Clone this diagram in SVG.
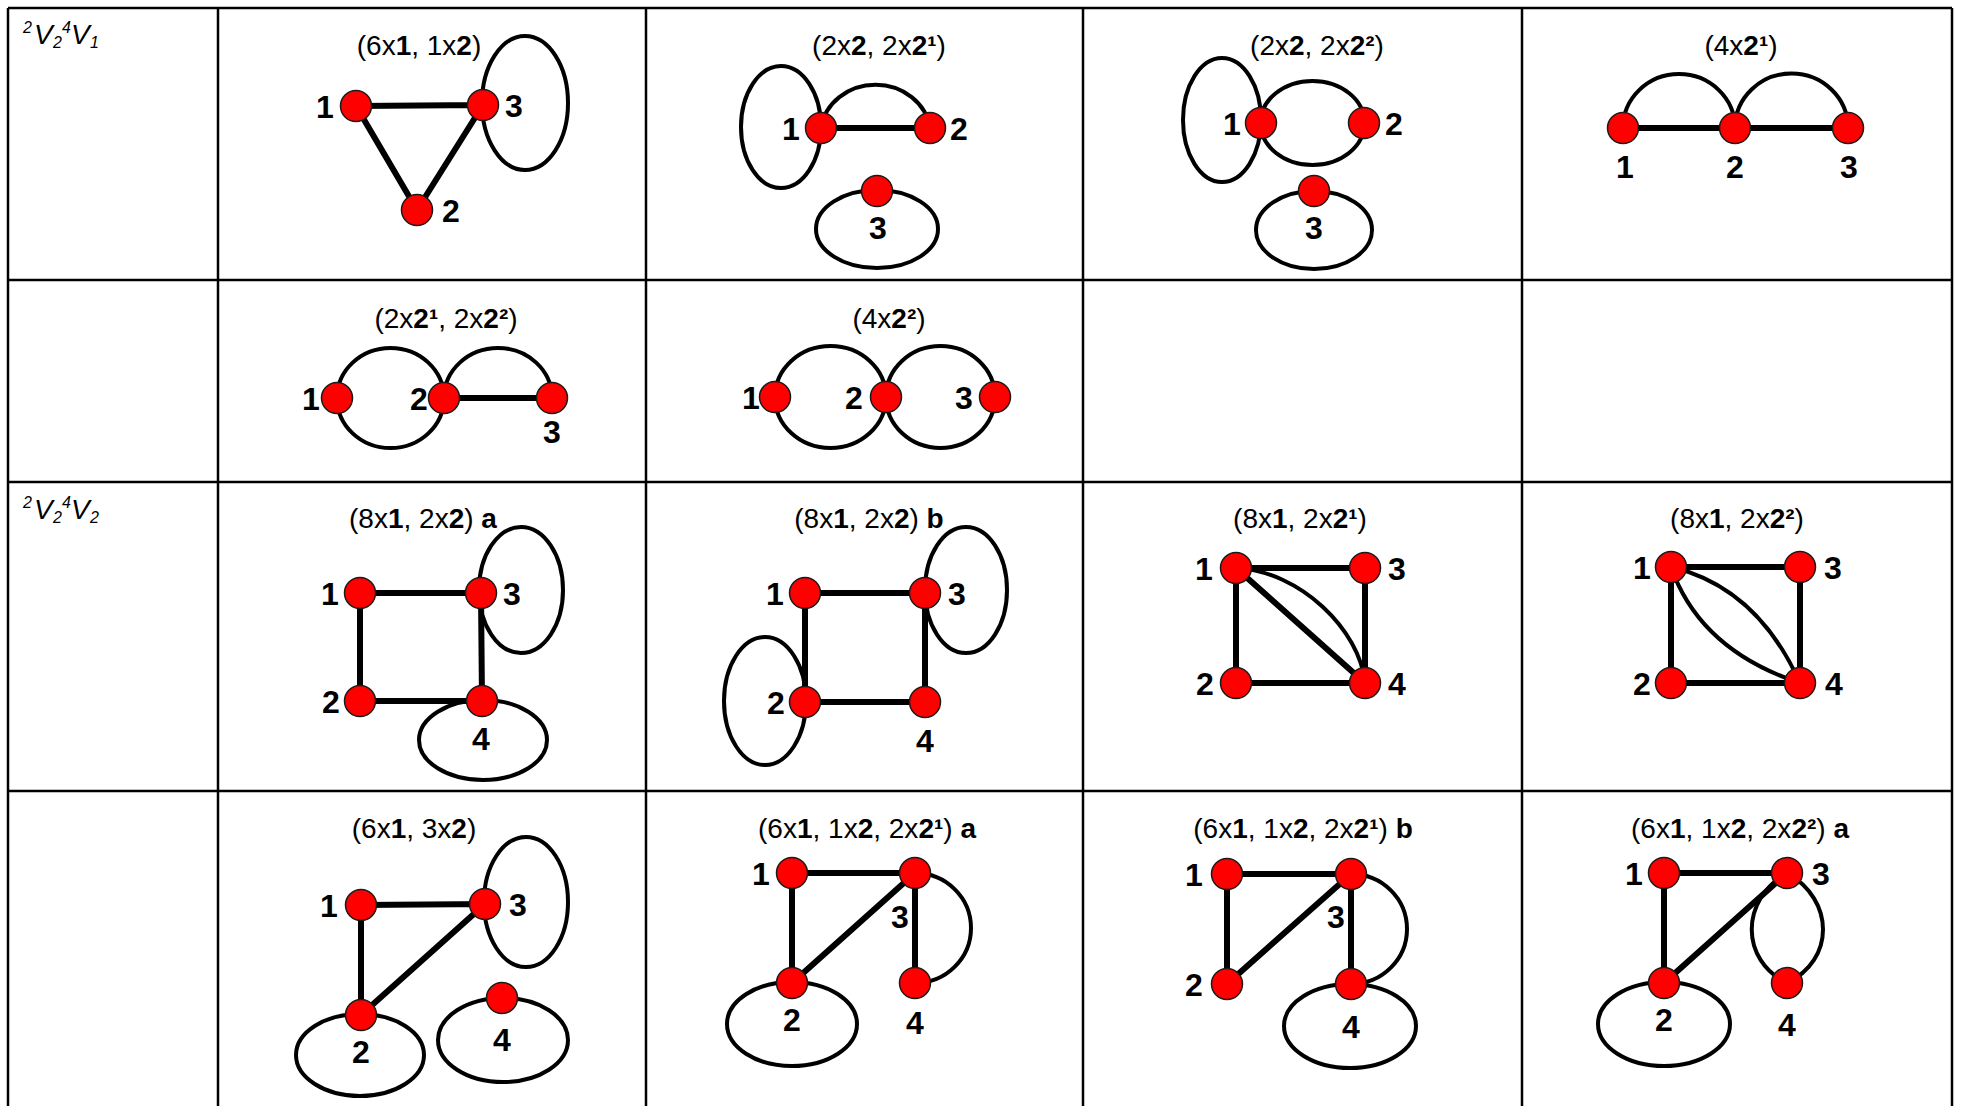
<svg xmlns="http://www.w3.org/2000/svg" width="1961" height="1106" viewBox="0 0 1961 1106">
<style>
.grid{stroke:#000;stroke-width:2.5;fill:none}
.e{stroke:#000;stroke-width:6;stroke-linecap:round;fill:none}
.l{stroke:#000;stroke-width:4;fill:none}
.n{fill:#ff0000;stroke:#1a1a1a;stroke-width:1.5}
.t{font-family:"Liberation Sans",Arial,sans-serif;font-size:28px;fill:#000;text-anchor:middle}
.b{font-weight:bold}
.d{font-family:"Liberation Sans",Arial,sans-serif;font-size:32px;font-weight:bold;fill:#000;text-anchor:middle}
.m{font-family:"Liberation Sans",Arial,sans-serif;font-style:italic;fill:#000;font-size:28px}
.s{font-size:16px}
</style>
<rect width="1961" height="1106" fill="#fff"/>
<g id="table" class="grid">
<path d="M8,8 H1952 M8,280 H1952 M8,482 H1952 M8,791 H1952"/>
<path d="M8,8 V1106 M218,8 V1106 M646,8 V1106 M1083,8 V1106 M1522,8 V1106 M1952,8 V1106"/>
</g>
<g id="rowlabels" class="m">
<text><tspan class="s" x="23" y="33">2</tspan><tspan x="34" y="44">V</tspan><tspan class="s" x="53" y="48">2</tspan><tspan class="s" x="62" y="33">4</tspan><tspan x="71" y="44">V</tspan><tspan class="s" x="90" y="48">1</tspan></text>
<text><tspan class="s" x="23" y="508">2</tspan><tspan x="34" y="519">V</tspan><tspan class="s" x="53" y="523">2</tspan><tspan class="s" x="62" y="508">4</tspan><tspan x="71" y="519">V</tspan><tspan class="s" x="90" y="523">2</tspan></text>
</g>
<g id="connectors">
<path class="e" d="M356,106 L483,105 M356,106 L417,210 M483,105 L417,210"/>
<ellipse class="l" cx="525" cy="103" rx="43" ry="67"/>
<path class="e" d="M821,128 L930,128"/>
<path class="l" d="M821,128 A55 50 0 0 1 930,128"/>
<ellipse class="l" cx="781" cy="127" rx="40" ry="61"/>
<ellipse class="l" cx="877" cy="229" rx="61" ry="39"/>
<ellipse class="l" cx="1312.5" cy="123" rx="52" ry="42"/>
<ellipse class="l" cx="1222" cy="120" rx="39" ry="62"/>
<ellipse class="l" cx="1314" cy="230" rx="58" ry="39"/>
<path class="e" d="M1623,128 L1848,128"/>
<path class="l" d="M1623,128 A56 54 0 0 1 1735,128 A56 54 0 0 1 1848,128"/>
<path class="e" d="M444,398 L552,398"/>
<ellipse class="l" cx="390.5" cy="398" rx="53.5" ry="50"/>
<path class="l" d="M444,398 A54 50 0 0 1 552,398"/>
<ellipse class="l" cx="830.5" cy="397" rx="55.5" ry="51"/>
<ellipse class="l" cx="940.5" cy="397" rx="54.5" ry="51"/>
<path class="e" d="M360,593 L481,593 L482,701 L360,701 Z"/>
<ellipse class="l" cx="521" cy="590" rx="42" ry="63"/>
<ellipse class="l" cx="483" cy="740" rx="64" ry="40"/>
<path class="e" d="M805,593 L925,593 L925,702 L805,702 Z"/>
<ellipse class="l" cx="966" cy="590" rx="41" ry="63"/>
<ellipse class="l" cx="765" cy="701" rx="41" ry="64"/>
<path class="e" d="M1236,568 L1365,568 L1365,683 L1236,683 Z M1236,568 L1365,683"/>
<path class="l" d="M1236,568 C1300,571 1360,630 1365,683"/>
<path class="e" d="M1671,567 L1800,567 L1800,683 L1671,683 Z"/>
<path class="l" d="M1671,567 Q1700,650 1800,683 M1671,567 Q1757,587 1800,683"/>
<path class="e" d="M361,905 L485,904 L361,1015 Z"/>
<ellipse class="l" cx="526" cy="902" rx="42" ry="65"/>
<ellipse class="l" cx="360" cy="1055" rx="64" ry="41"/>
<ellipse class="l" cx="503" cy="1040" rx="65" ry="42"/>
<path class="e" d="M792,873 L915,873 L792,983 Z M915,873 L915,983"/>
<path class="l" d="M915,873 A56 55 0 0 1 915,983"/>
<ellipse class="l" cx="792" cy="1024" rx="65" ry="42"/>
<path class="e" d="M1227,874 L1351,874 L1227,984 Z M1351,874 L1351,984"/>
<path class="l" d="M1351,874 A56 55 0 0 1 1351,984"/>
<ellipse class="l" cx="1350" cy="1026" rx="66" ry="42"/>
<path class="e" d="M1664,873 L1787,873 L1664,983 Z"/>
<path class="l" d="M1787,873 C1835,900 1835,960 1787,983 M1787,873 C1740,900 1740,960 1787,983"/>
<ellipse class="l" cx="1664" cy="1024" rx="66" ry="42"/>
</g>
<g id="c_r1c1">
<text class="t" x="419" y="55">(6x<tspan class="b">1</tspan>, 1x<tspan class="b">2</tspan>)</text>
<circle class="n" cx="356" cy="106" r="15.5"/><circle class="n" cx="483" cy="105" r="15.5"/><circle class="n" cx="417" cy="210" r="15.5"/>
<text class="d" x="325" y="118">1</text><text class="d" x="514" y="117">3</text><text class="d" x="451" y="222">2</text>
</g>
<g id="c_r1c2">
<text class="t" x="879" y="55">(2x<tspan class="b">2</tspan>, 2x<tspan class="b">2¹</tspan>)</text>
<circle class="n" cx="821" cy="128" r="15.5"/><circle class="n" cx="930" cy="128" r="15.5"/><circle class="n" cx="877" cy="191" r="15.5"/>
<text class="d" x="791" y="140">1</text><text class="d" x="959" y="140">2</text><text class="d" x="878" y="239">3</text>
</g>
<g id="c_r1c3">
<text class="t" x="1317" y="55">(2x<tspan class="b">2</tspan>, 2x<tspan class="b">2²</tspan>)</text>
<circle class="n" cx="1261" cy="123" r="15.5"/><circle class="n" cx="1364" cy="123" r="15.5"/><circle class="n" cx="1314" cy="191" r="15.5"/>
<text class="d" x="1232" y="135">1</text><text class="d" x="1394" y="135">2</text><text class="d" x="1314" y="239">3</text>
</g>
<g id="c_r1c4">
<text class="t" x="1741" y="55">(4x<tspan class="b">2¹</tspan>)</text>
<circle class="n" cx="1623" cy="128" r="15.5"/><circle class="n" cx="1735" cy="128" r="15.5"/><circle class="n" cx="1848" cy="128" r="15.5"/>
<text class="d" x="1625" y="178">1</text><text class="d" x="1735" y="178">2</text><text class="d" x="1849" y="178">3</text>
</g>
<g id="c_r2c1">
<text class="t" x="446" y="328">(2x<tspan class="b">2¹</tspan>, 2x<tspan class="b">2²</tspan>)</text>
<circle class="n" cx="337" cy="398" r="15.5"/><circle class="n" cx="444" cy="398" r="15.5"/><circle class="n" cx="552" cy="398" r="15.5"/>
<text class="d" x="311" y="410">1</text><text class="d" x="419" y="410">2</text><text class="d" x="552" y="443">3</text>
</g>
<g id="c_r2c2">
<text class="t" x="889" y="328">(4x<tspan class="b">2²</tspan>)</text>
<circle class="n" cx="775" cy="397" r="15.5"/><circle class="n" cx="886" cy="397" r="15.5"/><circle class="n" cx="995" cy="397" r="15.5"/>
<text class="d" x="751" y="409">1</text><text class="d" x="854" y="409">2</text><text class="d" x="964" y="409">3</text>
</g>
<g id="c_r3c1">
<text class="t" x="423" y="528">(8x<tspan class="b">1</tspan>, 2x<tspan class="b">2</tspan>) <tspan class="b">a</tspan></text>
<circle class="n" cx="360" cy="593" r="15.5"/><circle class="n" cx="481" cy="593" r="15.5"/><circle class="n" cx="360" cy="701" r="15.5"/><circle class="n" cx="482" cy="701" r="15.5"/>
<text class="d" x="330" y="605">1</text><text class="d" x="512" y="605">3</text><text class="d" x="331" y="713">2</text><text class="d" x="481" y="750">4</text>
</g>
<g id="c_r3c2">
<text class="t" x="869" y="528">(8x<tspan class="b">1</tspan>, 2x<tspan class="b">2</tspan>) <tspan class="b">b</tspan></text>
<circle class="n" cx="805" cy="593" r="15.5"/><circle class="n" cx="925" cy="593" r="15.5"/><circle class="n" cx="805" cy="702" r="15.5"/><circle class="n" cx="925" cy="702" r="15.5"/>
<text class="d" x="775" y="605">1</text><text class="d" x="957" y="605">3</text><text class="d" x="776" y="714">2</text><text class="d" x="925" y="752">4</text>
</g>
<g id="c_r3c3">
<text class="t" x="1300" y="528">(8x<tspan class="b">1</tspan>, 2x<tspan class="b">2¹</tspan>)</text>
<circle class="n" cx="1236" cy="568" r="15.5"/><circle class="n" cx="1365" cy="568" r="15.5"/><circle class="n" cx="1236" cy="683" r="15.5"/><circle class="n" cx="1365" cy="683" r="15.5"/>
<text class="d" x="1204" y="580">1</text><text class="d" x="1397" y="580">3</text><text class="d" x="1205" y="695">2</text><text class="d" x="1397" y="695">4</text>
</g>
<g id="c_r3c4">
<text class="t" x="1737" y="528">(8x<tspan class="b">1</tspan>, 2x<tspan class="b">2²</tspan>)</text>
<circle class="n" cx="1671" cy="567" r="15.5"/><circle class="n" cx="1800" cy="567" r="15.5"/><circle class="n" cx="1671" cy="683" r="15.5"/><circle class="n" cx="1800" cy="683" r="15.5"/>
<text class="d" x="1642" y="579">1</text><text class="d" x="1833" y="579">3</text><text class="d" x="1642" y="695">2</text><text class="d" x="1834" y="695">4</text>
</g>
<g id="c_r4c1">
<text class="t" x="414" y="838">(6x<tspan class="b">1</tspan>, 3x<tspan class="b">2</tspan>)</text>
<circle class="n" cx="361" cy="905" r="15.5"/><circle class="n" cx="485" cy="904" r="15.5"/><circle class="n" cx="361" cy="1015" r="15.5"/><circle class="n" cx="502" cy="998" r="15.5"/>
<text class="d" x="329" y="917">1</text><text class="d" x="518" y="916">3</text><text class="d" x="361" y="1063">2</text><text class="d" x="502" y="1051">4</text>
</g>
<g id="c_r4c2">
<text class="t" x="867" y="838">(6x<tspan class="b">1</tspan>, 1x<tspan class="b">2</tspan>, 2x<tspan class="b">2¹</tspan>) <tspan class="b">a</tspan></text>
<circle class="n" cx="792" cy="873" r="15.5"/><circle class="n" cx="915" cy="873" r="15.5"/><circle class="n" cx="792" cy="983" r="15.5"/><circle class="n" cx="915" cy="983" r="15.5"/>
<text class="d" x="761" y="885">1</text><text class="d" x="900" y="928">3</text><text class="d" x="792" y="1031">2</text><text class="d" x="915" y="1034">4</text>
</g>
<g id="c_r4c3">
<text class="t" x="1303" y="838">(6x<tspan class="b">1</tspan>, 1x<tspan class="b">2</tspan>, 2x<tspan class="b">2¹</tspan>) <tspan class="b">b</tspan></text>
<circle class="n" cx="1227" cy="874" r="15.5"/><circle class="n" cx="1351" cy="874" r="15.5"/><circle class="n" cx="1227" cy="984" r="15.5"/><circle class="n" cx="1351" cy="984" r="15.5"/>
<text class="d" x="1194" y="886">1</text><text class="d" x="1336" y="928">3</text><text class="d" x="1194" y="996">2</text><text class="d" x="1351" y="1038">4</text>
</g>
<g id="c_r4c4">
<text class="t" x="1740" y="838">(6x<tspan class="b">1</tspan>, 1x<tspan class="b">2</tspan>, 2x<tspan class="b">2²</tspan>) <tspan class="b">a</tspan></text>
<circle class="n" cx="1664" cy="873" r="15.5"/><circle class="n" cx="1787" cy="873" r="15.5"/><circle class="n" cx="1664" cy="983" r="15.5"/><circle class="n" cx="1787" cy="983" r="15.5"/>
<text class="d" x="1634" y="885">1</text><text class="d" x="1821" y="885">3</text><text class="d" x="1664" y="1031">2</text><text class="d" x="1787" y="1036">4</text>
</g>
</svg>
